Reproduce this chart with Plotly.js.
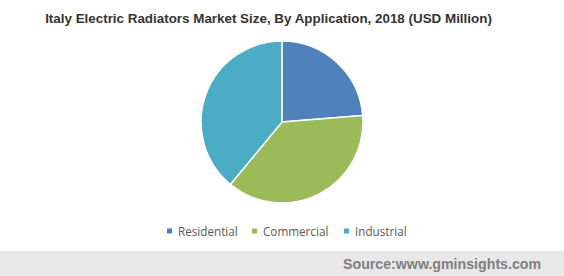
<!DOCTYPE html>
<html>
<head>
<meta charset="utf-8">
<script src="https://cdn.plot.ly/plotly-3.0.1.min.js"></script>
<style>html,body{margin:0;padding:0;background:#fff;}#chart{width:564px;height:276px;}</style>
</head>
<body>
<div id="chart"></div>
<script>
const categories = ["Residential", "Commercial", "Industrial"];
const values = [23.7, 37.3, 39.0];
const colors = ["#4f81bd", "#9bbb59", "#4bacc6"];

// legend layout (pixel positions of each legend entry's square, left edge)
const legendX = [167, 252, 344];
const legendY = 231;
const W = 564, H = 276;

const pie = {
  type: "pie",
  labels: categories,
  values: values,
  sort: false,
  direction: "clockwise",
  rotation: 0,
  marker: { colors: colors, line: { color: "#ffffff", width: 1.5 } },
  textinfo: "none",
  hoverinfo: "label+value",
  showlegend: false,
  domain: { x: [0, 1], y: [73 / H, 235 / H] }
};

const shapes = [{
  type: "rect", xref: "paper", yref: "paper",
  x0: 0, x1: 1, y0: 0, y1: 25 / H,
  fillcolor: "#e8e8e8", line: { width: 0 }, layer: "below"
}];
const annotations = [{
  text: "<b>Source:www.gminsights.com</b>",
  xref: "paper", yref: "paper",
  x: 543 / W, xanchor: "right",
  y: 12.5 / H, yanchor: "middle",
  showarrow: false,
  font: { family: "Liberation Sans, Arial, sans-serif", size: 14.2, color: "#7f7f7f" }
}];

categories.forEach((c, i) => {
  const x0 = legendX[i];
  shapes.push({
    type: "rect", xref: "paper", yref: "paper",
    x0: x0 / W, x1: (x0 + 5) / W,
    y0: (H - legendY - 2.5) / H, y1: (H - legendY + 2.5) / H,
    fillcolor: colors[i], line: { width: 0 }
  });
  annotations.push({
    text: c, xref: "paper", yref: "paper",
    x: (x0 + 8.5) / W, xanchor: "left",
    y: (H - legendY) / H, yanchor: "middle",
    showarrow: false,
    font: { family: "Open Sans, DejaVu Sans, sans-serif", size: 11.7, color: "#595959" }
  });
});

const layout = {
  width: W, height: H,
  margin: { l: 0, r: 0, t: 0, b: 0 },
  paper_bgcolor: "#ffffff",
  title: {
    text: "<b>Italy Electric Radiators Market Size, By Application, 2018 (USD Million)</b>",
    font: { family: "Liberation Sans, Arial, sans-serif", size: 13.4, color: "#333333" },
    x: 268.5 / W, xanchor: "center",
    y: 1 - 18 / H, yref: "container", yanchor: "middle"
  },
  showlegend: false,
  shapes: shapes,
  annotations: annotations
};

Plotly.newPlot("chart", [pie], layout, { displayModeBar: false, staticPlot: true });
</script>
</body>
</html>
